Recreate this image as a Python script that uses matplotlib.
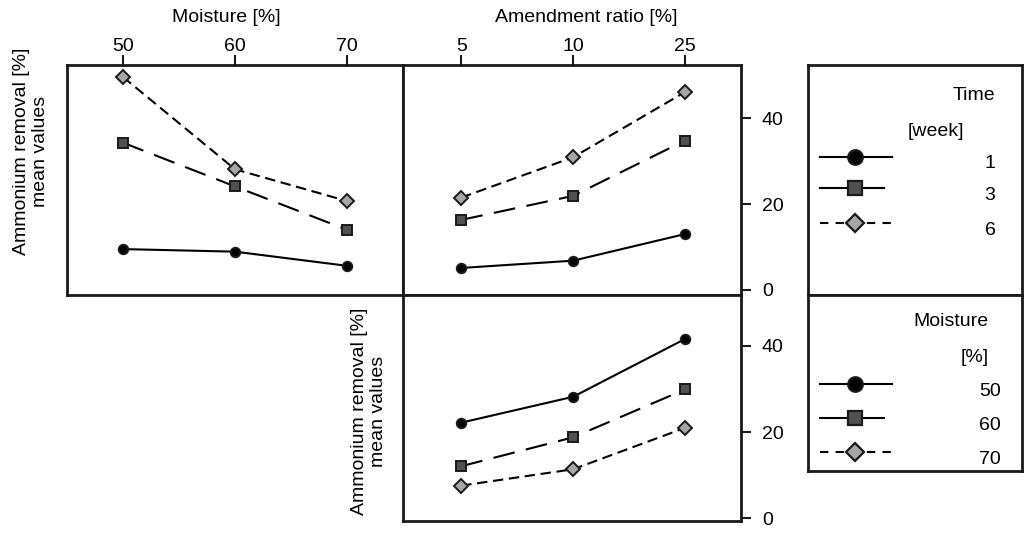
import matplotlib
matplotlib.use("Agg")
import matplotlib.pyplot as plt

plt.rcParams['font.family'] = ['Liberation Sans', 'DejaVu Sans']
plt.rcParams['font.size'] = 14

# data
moisture = [50, 60, 70]
ratio_labels = ['5', '10', '25']
ratio_pos = [1, 2, 3]

# top left: removal vs moisture, one line per week
wk1_moist = [9.5, 8.9, 5.6]
wk3_moist = [34.3, 24.1, 14.0]
wk6_moist = [49.6, 28.1, 20.7]

# top right: removal vs amendment ratio, one line per week
wk1_ratio = [5.1, 6.8, 13.0]
wk3_ratio = [16.3, 21.9, 34.8]
wk6_ratio = [21.5, 30.9, 46.1]

# bottom right: removal vs amendment ratio, one line per moisture
m50_ratio = [22.2, 28.2, 41.6]
m60_ratio = [12.1, 18.8, 29.9]
m70_ratio = [7.6, 11.4, 21.0]

week_labels = ['1', '3', '6']
moist_labels = ['50', '60', '70']

W, H = 1025, 537
EDGE = '#1a1a1a'

def rect(x0, y0, x1, y1):
    return [x0 / W, 1 - y1 / H, (x1 - x0) / W, (y1 - y0) / H]

# line styles per series
styles = [
    dict(color='black', marker='o', markerfacecolor='black', markersize=6.8, linestyle='-'),
    dict(color='black', marker='s', markerfacecolor='#505050', markersize=7.2, dashes=(10.5, 5.5)),
    dict(color='black', marker='D', markerfacecolor='#a6a6a6', markersize=7.6, dashes=(5.0, 2.7)),
]

fig = plt.figure(figsize=(W / 100, H / 100), dpi=100)

ax1 = fig.add_axes(rect(67, 65, 403, 295))
ax2 = fig.add_axes(rect(403, 65, 741, 295))
ax3 = fig.add_axes(rect(403, 295, 741, 521))

for ys, st in zip([wk1_moist, wk3_moist, wk6_moist], styles):
    ax1.plot(moisture, ys, lw=1.5, markeredgecolor=EDGE, markeredgewidth=1.4, **st)
for ys, st in zip([wk1_ratio, wk3_ratio, wk6_ratio], styles):
    ax2.plot(ratio_pos, ys, lw=1.5, markeredgecolor=EDGE, markeredgewidth=1.4, **st)
for ys, st in zip([m50_ratio, m60_ratio, m70_ratio], styles):
    ax3.plot(ratio_pos, ys, lw=1.5, markeredgecolor=EDGE, markeredgewidth=1.4, **st)

ax1.set_xlim(45, 75)
ax1.set_ylim(-1.2, 52.4)
ax2.set_xlim(0.48, 3.5)
ax2.set_ylim(-1.2, 52.4)
ax3.set_xlim(0.48, 3.5)
ax3.set_ylim(-0.6, 51.8)

for ax in (ax1, ax2, ax3):
    for sp in ax.spines.values():
        sp.set_linewidth(2)
        sp.set_color(EDGE)
    ax.tick_params(width=1.5, length=7, color=EDGE, labelsize=14)

# top x ticks
ax1.xaxis.tick_top()
ax1.set_xticks(moisture)
ax1.tick_params(axis='x', pad=0)
ax1.set_yticks([])

ax2.xaxis.tick_top()
ax2.set_xticks(ratio_pos)
ax2.set_xticklabels(ratio_labels)
ax2.tick_params(axis='x', pad=0)
ax2.yaxis.tick_right()
ax2.set_yticks([0, 20, 40])
ax2.tick_params(axis='y', pad=8)

ax3.set_xticks([])
ax3.yaxis.tick_right()
ax3.set_yticks([0, 20, 40])
ax3.tick_params(axis='y', pad=8)

# axis titles
fig.text(226.7 / W, 1 - 18 / H, 'Moisture [%]', ha='center', va='center', fontsize=14)
fig.text(586 / W, 1 - 18 / H, 'Amendment ratio [%]', ha='center', va='center', fontsize=14)
ylab = 'Ammonium removal [%]\nmean values'
fig.text(31 / W, 1 - 151 / H, ylab, rotation=90, ha='center', va='center',
         multialignment='center', fontsize=14)
fig.text(369 / W, 1 - 411 / H, ylab, rotation=90, ha='center', va='center',
         multialignment='center', fontsize=14)

# legend boxes drawn in pixel coordinates
def legend_box(y0, y1, title, subtitle, sub_x, labels, rows, title_x, title_ha):
    lg = fig.add_axes(rect(808, y0, 1022, y1))
    lg.set_xlim(808, 1022)
    lg.set_ylim(y1, y0)
    lg.set_xticks([])
    lg.set_yticks([])
    for sp in lg.spines.values():
        sp.set_linewidth(2)
        sp.set_color(EDGE)
    lg.text(title_x, rows[0] - 62, title, ha=title_ha, va='center', fontsize=14)
    lg.text(sub_x, rows[0] - 26, subtitle, ha='center', va='center', fontsize=14)
    ends = [892, 884, 892]
    big = [10.5, 9.4, 9.2]
    for i, (lab, yr) in enumerate(zip(labels, rows)):
        st = dict(styles[i])
        st['markersize'] = big[i]
        if i == 1:
            st.pop('dashes')
            st['linestyle'] = '-'
        if i == 2:
            st['dashes'] = (4.0, 3.5)
        lg.plot([820, 855, ends[i]], [yr, yr, yr], lw=1.5, markeredgecolor=EDGE,
                markeredgewidth=1.6, markevery=[1], **st)
        lg.text(990, yr + 7, lab, ha='center', va='center', fontsize=14)
    return lg

legend_box(65, 295, 'Time', '[week]', 936, week_labels, [157, 188, 223], 995, 'right')
legend_box(295, 471, 'Moisture', '[%]', 975, moist_labels, [384, 418, 452], 951, 'center')

fig.savefig('out.png', dpi=100)
